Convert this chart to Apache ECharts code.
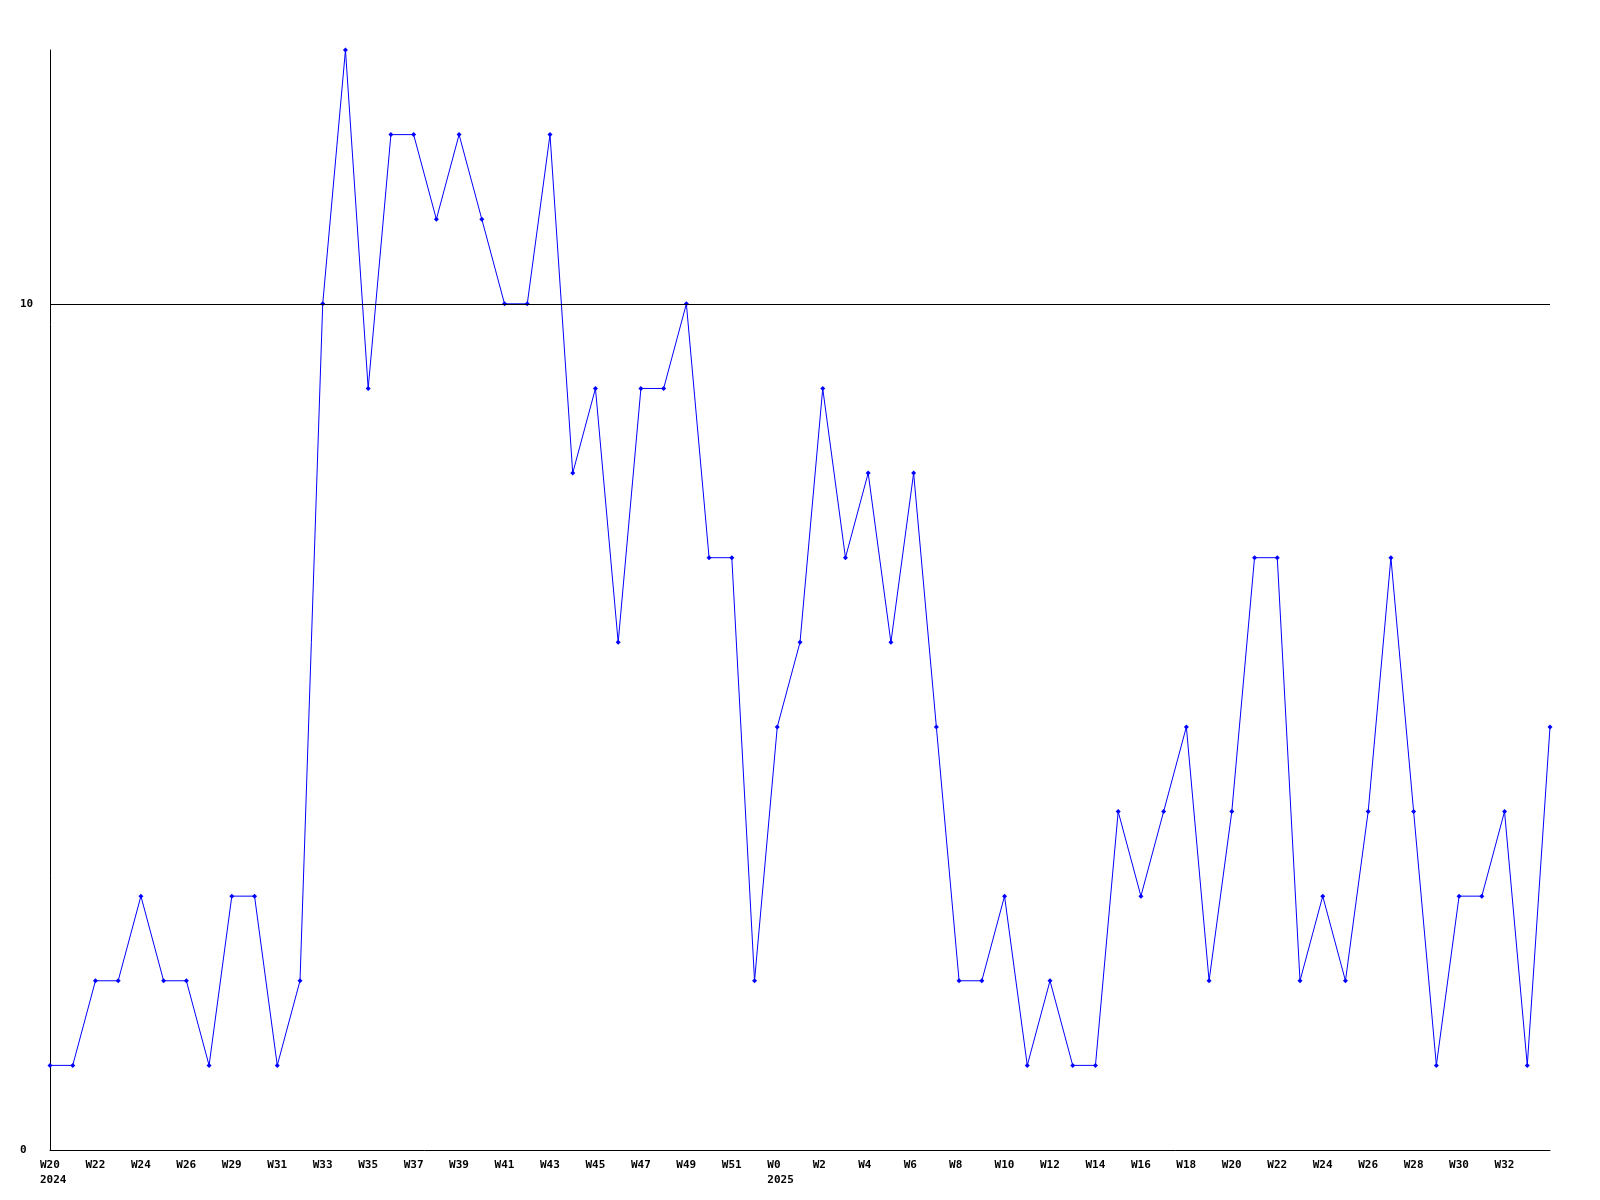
<!DOCTYPE html>
<html>
<head>
<meta charset="utf-8">
<script src="https://cdn.jsdelivr.net/npm/echarts@6/dist/echarts.min.js"></script>
<style>html,body{margin:0;padding:0;background:#fff;}#c{width:1600px;height:1200px;}</style>
</head>
<body>
<div id="c"></div>
<script>
const categories = [
  "W20\n2024","W21","W22","W23","W24","W25","W26","W28","W29","W30","W31","W32","W33","W34","W35","W36",
  "W37","W38","W39","W40","W41","W42","W43","W44","W45","W46","W47","W48","W49","W50","W51","W52",
  "W0\n2025","W1","W2","W3","W4","W5","W6","W7","W8","W9","W10","W11","W12","W13","W14","W15",
  "W16","W17","W18","W19","W20","W21","W22","W23","W24","W25","W26","W27","W28","W29","W30","W31",
  "W32","W33","W34"
];
const values = [
  1,1,2,2,3,2,2,1,3,3,1,2,10,13,9,12,
  12,11,12,11,10,10,12,8,9,6,9,9,10,7,7,2,
  5,6,9,7,8,6,8,5,2,2,3,1,2,1,1,4,
  3,4,5,2,4,7,7,2,3,2,4,7,4,1,3,3,
  4,1,5
];
const yMin = 0, yMax = 13, yInterval = 10;
const refLine = 10;

const chart = echarts.init(document.getElementById('c'), null, {renderer:'canvas'});
const font = 'DejaVu Sans Mono';
chart.setOption({
  animation: false,
  backgroundColor: '#ffffff',
  grid: {left: 50, right: 50, top: 50, bottom: 50, containLabel: false},
  xAxis: {
    type: 'category',
    data: categories,
    boundaryGap: false,
    axisLine: {show: true, lineStyle: {color: '#000', width: 1}},
    axisTick: {show: false},
    axisLabel: {
      interval: function (i) { return i % 2 === 0 && i <= 64; },
      color: '#000', fontFamily: font, fontWeight: 'bold', fontSize: 11, margin: 8, lineHeight: 15,
      align: 'left', padding: [0, 0, 0, -10]
    },
    splitLine: {show: false}
  },
  yAxis: {
    type: 'value',
    min: yMin, max: yMax, interval: yInterval,
    axisLine: {show: true, lineStyle: {color: '#000', width: 1}},
    axisTick: {show: false},
    axisLabel: {showMaxLabel: false, color: '#000', fontFamily: font, fontWeight: 'bold', fontSize: 11, align: 'left', margin: 30},
    splitLine: {show: false}
  },
  series: [{
    type: 'line',
    data: values,
    lineStyle: {color: '#0000ff', width: 1},
    itemStyle: {color: '#0000ff'},
    symbol: 'diamond',
    symbolSize: 5,
    showSymbol: true,
    markLine: {
      silent: true,
      symbol: ['none','none'],
      label: {show: false},
      lineStyle: {color: '#000', width: 1, type: 'solid'},
      data: [{yAxis: refLine}]
    }
  }]
});
</script>
</body>
</html>
